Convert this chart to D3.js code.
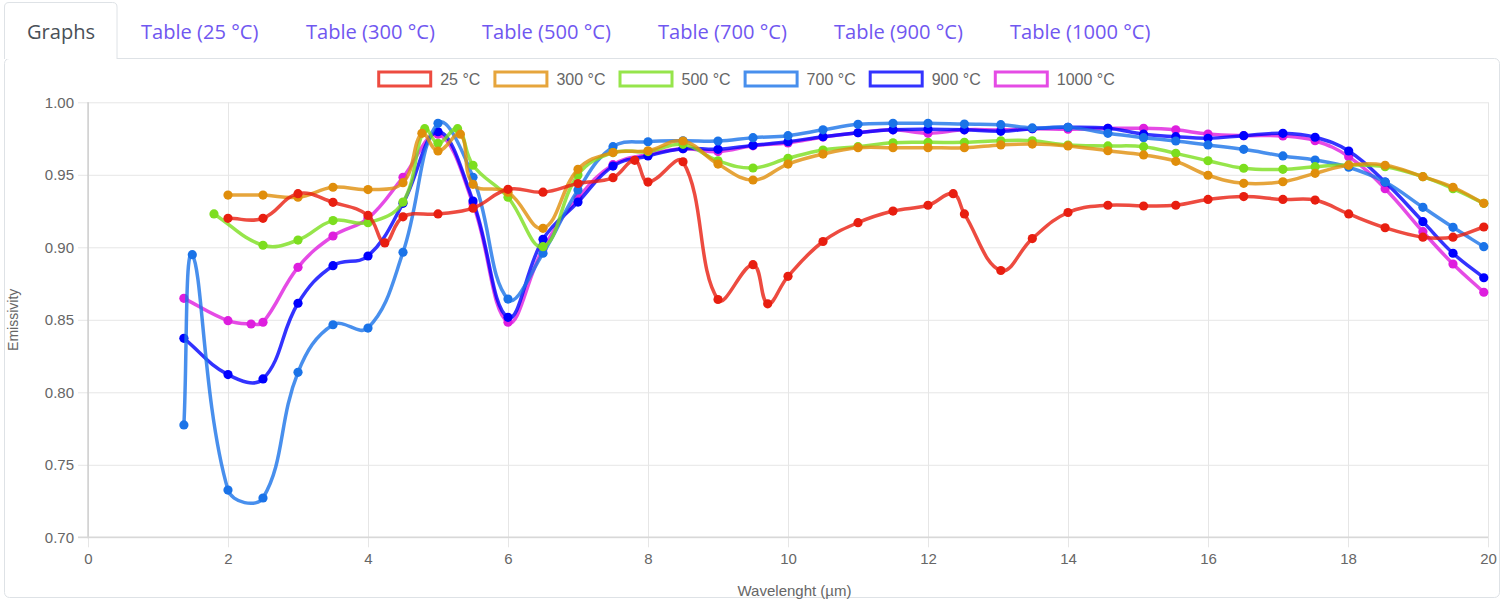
<!DOCTYPE html>
<html>
<head>
<meta charset="utf-8">
<script src="https://cdn.jsdelivr.net/npm/d3@7"></script>
<style>
  html, body { margin: 0; padding: 0; background: #fff; }
  svg { display: block; }
</style>
</head>
<body>
<svg id="chart" width="1505" height="600"></svg>
<script>
// ---------- DATA ----------
const tabLabels = ["Graphs", "Table (25 °C)", "Table (300 °C)", "Table (500 °C)", "Table (700 °C)", "Table (900 °C)", "Table (1000 °C)"];
const seriesNames = ["25 °C", "300 °C", "500 °C", "700 °C", "900 °C", "1000 °C"];
const xTicks = [0, 2, 4, 6, 8, 10, 12, 14, 16, 18, 20];
const yTicks = [0.70, 0.75, 0.80, 0.85, 0.90, 0.95, 1.00];

const x25 = [2, 2.5, 3, 3.5, 4, 4.24, 4.5, 5, 5.5, 6, 6.5, 7, 7.5, 7.81, 8, 8.5, 9, 9.5, 9.71, 10, 10.5, 11, 11.5, 12, 12.36, 12.52, 13.04, 13.49, 14, 14.57, 15.08, 15.54, 16, 16.51, 17.07, 17.53, 18.01, 18.53, 19.07, 19.5, 19.94];
const y25 = [0.920, 0.920, 0.937, 0.931, 0.922, 0.903, 0.921, 0.923, 0.927, 0.940, 0.938, 0.944, 0.948, 0.960, 0.945, 0.959, 0.864, 0.888, 0.861, 0.880, 0.904, 0.917, 0.925, 0.929, 0.937, 0.923, 0.884, 0.906, 0.924, 0.929, 0.9285, 0.929, 0.933, 0.935, 0.933, 0.9326, 0.923, 0.9135, 0.907, 0.907, 0.914];

const x300 = [2, 2.5, 3, 3.5, 4, 4.5, 4.77, 5, 5.32, 5.5, 6, 6.5, 7, 7.5, 8, 8.5, 9, 9.5, 10, 10.5, 11, 11.5, 12, 12.52, 13.04, 13.49, 14, 14.57, 15.08, 15.54, 16, 16.51, 17.07, 17.53, 18.01, 18.53, 19.07, 19.5, 19.94];
const y300 = [0.936, 0.936, 0.9345, 0.9414, 0.9398, 0.9446, 0.9786, 0.9664, 0.978, 0.9434, 0.938, 0.9131, 0.9538, 0.9653, 0.9666, 0.9733, 0.9574, 0.9464, 0.9574, 0.9643, 0.9687, 0.9687, 0.9687, 0.9687, 0.9706, 0.9712, 0.9699, 0.9666, 0.9637, 0.9593, 0.9497, 0.9441, 0.9452, 0.951, 0.9566, 0.9566, 0.9487, 0.9414, 0.9303];

const x500 = [1.8, 2.5, 3, 3.5, 4, 4.5, 4.81, 5, 5.28, 5.5, 6, 6.5, 7, 7.5, 8, 8.5, 9, 9.5, 10, 10.5, 11, 11.5, 12, 12.52, 13.04, 13.49, 14, 14.57, 15.08, 15.54, 16, 16.51, 17.07, 17.53, 18.01, 18.53, 19.07, 19.5, 19.94];
const y500 = [0.923, 0.9014, 0.905, 0.9184, 0.917, 0.9312, 0.9818, 0.9717, 0.9818, 0.9566, 0.9345, 0.9004, 0.9499, 0.9653, 0.966, 0.971, 0.9597, 0.9547, 0.9614, 0.9671, 0.9694, 0.9721, 0.9724, 0.9724, 0.9735, 0.9735, 0.9705, 0.9699, 0.9694, 0.9648, 0.9597, 0.9545, 0.9538, 0.9556, 0.9568, 0.9556, 0.9487, 0.9404, 0.9303];

const x700 = [1.37, 1.49, 2, 2.5, 3, 3.5, 4, 4.5, 5, 5.5, 6, 6.5, 7, 7.5, 8, 8.5, 9, 9.5, 10, 10.5, 11, 11.5, 12, 12.52, 13.04, 13.49, 14, 14.57, 15.08, 15.54, 16, 16.51, 17.07, 17.53, 18.01, 18.53, 19.07, 19.5, 19.94];
const y700 = [0.7775, 0.8949, 0.7326, 0.7271, 0.8138, 0.8466, 0.8443, 0.8966, 0.9855, 0.9483, 0.8643, 0.8959, 0.9395, 0.9694, 0.9728, 0.9735, 0.9733, 0.9756, 0.977, 0.981, 0.9848, 0.9855, 0.9855, 0.985, 0.9846, 0.9823, 0.9828, 0.9786, 0.9756, 0.9733, 0.9706, 0.9676, 0.963, 0.9602, 0.9552, 0.945, 0.9276, 0.9138, 0.9004];

const x900 = [1.37, 2, 2.5, 3, 3.5, 4, 4.5, 5, 5.5, 6, 6.5, 7, 7.5, 8, 8.5, 9, 9.5, 10, 10.5, 11, 11.5, 12, 12.52, 13.04, 13.49, 14, 14.57, 15.08, 15.54, 16, 16.51, 17.07, 17.53, 18.01, 18.53, 19.07, 19.5, 19.94];
const y900 = [0.8372, 0.8122, 0.8092, 0.8614, 0.8873, 0.894, 0.9303, 0.9797, 0.9319, 0.8517, 0.9055, 0.9312, 0.956, 0.963, 0.968, 0.9676, 0.9703, 0.9728, 0.9763, 0.979, 0.981, 0.9814, 0.981, 0.980, 0.9818, 0.9828, 0.9821, 0.978, 0.9763, 0.9752, 0.977, 0.9786, 0.9759, 0.9664, 0.945, 0.9177, 0.8959, 0.879];

const x1000 = [1.37, 2, 2.33, 2.5, 3, 3.5, 4, 4.5, 5, 5.5, 6, 6.5, 7, 7.5, 8, 8.5, 9, 9.5, 10, 10.5, 11, 11.5, 12, 12.52, 13.04, 13.49, 14, 14.57, 15.08, 15.54, 16, 16.51, 17.07, 17.53, 18.01, 18.53, 19.07, 19.5, 19.94];
const y1000 = [0.8648, 0.8494, 0.8471, 0.8483, 0.8862, 0.9078, 0.920, 0.9483, 0.978, 0.930, 0.8483, 0.899, 0.934, 0.957, 0.964, 0.968, 0.966, 0.970, 0.972, 0.976, 0.979, 0.981, 0.9786, 0.981, 0.981, 0.9818, 0.9814, 0.982, 0.9821, 0.981, 0.9781, 0.977, 0.9768, 0.9735, 0.9625, 0.9404, 0.9108, 0.8885, 0.869];

const seriesX = [x25, x300, x500, x700, x900, x1000];
const seriesY = [y25, y300, y500, y700, y900, y1000];
const pointColors = ["rgb(232,30,16)", "rgb(224,142,11)", "rgb(124,222,30)", "rgb(26,115,232)", "rgb(0,0,255)", "rgb(222,30,222)"];

// ---------- LAYOUT ----------
const svg = d3.select("#chart");
const plot = { left: 88, right: 1488, top: 102.3, bottom: 537.3 };
const x = d3.scaleLinear().domain([0, 20]).range([plot.left, plot.right]);
const y = d3.scaleLinear().domain([0.70, 1.00]).range([plot.bottom, plot.top]);

// ---------- TABS & CARD ----------
const tabFont = "'Open Sans', 'Noto Sans', sans-serif";
const tabG = svg.append("g");
const probe = tabG.append("text").attr("font-family", tabFont).attr("font-size", 20).text("Table (300 °C)");
const pw = probe.node().getComputedTextLength();
probe.remove();
const tabFontSize = 20 * 129 / pw;
const tabStartX = [27, 141, 306, 482, 658, 834, 1010];

svg.insert("rect", ":first-child").attr("x", 4.5).attr("y", 58.5).attr("width", 1495).attr("height", 539)
  .attr("rx", 5).attr("fill", "#fff").attr("stroke", "#dee2e6").attr("stroke-width", 1);
const tp = d3.path();
tp.moveTo(4.5, 59); tp.lineTo(4.5, 7); tp.quadraticCurveTo(4.5, 2.5, 9, 2.5);
tp.lineTo(112.5, 2.5); tp.quadraticCurveTo(117, 2.5, 117, 7); tp.lineTo(117, 59);
tabG.append("path").attr("d", tp.toString()).attr("fill", "#fff").attr("stroke", "#dee2e6");

tabLabels.forEach((t, i) => {
  tabG.append("text")
    .attr("x", tabStartX[i]).attr("y", 31)
    .attr("dominant-baseline", "central")
    .attr("font-family", tabFont).attr("font-size", tabFontSize)
    .attr("fill", i === 0 ? "#495057" : "#7057f0")
    .text(t);
});

// ---------- GRID & AXES ----------
const chartFont = "'Liberation Sans', Arial, sans-serif";
const gridColor = "#e6e6e6";

const yAxis = svg.append("g").attr("transform", `translate(${plot.left},0)`)
  .call(d3.axisLeft(y).tickValues(yTicks).tickFormat(d3.format(".2f")).tickSizeOuter(0).tickSizeInner(0).tickPadding(14));
yAxis.select(".domain").remove();
yAxis.selectAll(".tick line").attr("x1", -10).attr("x2", plot.right - plot.left)
  .attr("stroke", gridColor).attr("stroke-width", 1);
yAxis.selectAll(".tick text").attr("font-family", chartFont).attr("font-size", 15).attr("fill", "#666");

const xAxis = svg.append("g").attr("transform", `translate(0,${plot.bottom})`)
  .call(d3.axisBottom(x).tickValues(xTicks).tickFormat(d3.format("d")).tickSizeOuter(0).tickSizeInner(0).tickPadding(16));
xAxis.select(".domain").remove();
xAxis.selectAll(".tick line").attr("y1", 10).attr("y2", -(plot.bottom - plot.top))
  .attr("stroke", gridColor).attr("stroke-width", 1);
xAxis.selectAll(".tick text").attr("font-family", chartFont).attr("font-size", 15).attr("fill", "#666");

svg.append("line").attr("x1", plot.left).attr("x2", plot.left).attr("y1", plot.top).attr("y2", plot.bottom + 1)
  .attr("stroke", "#c6c6c6").attr("stroke-width", 1.2);
svg.append("line").attr("x1", plot.left - 10).attr("x2", plot.right).attr("y1", plot.bottom).attr("y2", plot.bottom)
  .attr("stroke", "#d8d8d8").attr("stroke-width", 1.6);

svg.append("text").attr("transform", `translate(13,${(plot.top + plot.bottom) / 2}) rotate(-90)`)
  .attr("text-anchor", "middle").attr("dominant-baseline", "central")
  .attr("font-family", chartFont).attr("font-size", 14).attr("fill", "#666").text("Emissivity");
svg.append("text").attr("x", 794.5).attr("y", 590)
  .attr("text-anchor", "middle").attr("dominant-baseline", "central")
  .attr("font-family", chartFont).attr("font-size", 15).attr("fill", "#666").text("Wavelenght (µm)");

// ---------- LINES (Chart.js style bezier, tension 0.4) ----------
function lineColor(c) { return d3.color(c).copy({ opacity: 0.8 }); }
function splinePath(pts, t) {
  const n = pts.length;
  const cps = pts.map((cur, i) => {
    const prev = i === 0 ? cur : pts[i - 1];
    const next = i === n - 1 ? cur : pts[i + 1];
    const d01 = Math.hypot(cur[0] - prev[0], cur[1] - prev[1]);
    const d12 = Math.hypot(next[0] - cur[0], next[1] - cur[1]);
    let s01 = d01 / (d01 + d12), s12 = d12 / (d01 + d12);
    if (!isFinite(s01)) s01 = 0; if (!isFinite(s12)) s12 = 0;
    const fa = t * s01, fb = t * s12;
    return {
      p: [cur[0] - fa * (next[0] - prev[0]), cur[1] - fa * (next[1] - prev[1])],
      n: [cur[0] + fb * (next[0] - prev[0]), cur[1] + fb * (next[1] - prev[1])]
    };
  });
  const p = d3.path();
  p.moveTo(pts[0][0], pts[0][1]);
  for (let i = 1; i < n; i++) {
    p.bezierCurveTo(cps[i - 1].n[0], cps[i - 1].n[1], cps[i].p[0], cps[i].p[1], pts[i][0], pts[i][1]);
  }
  return p.toString();
}

const lines = svg.append("g");
for (let s = seriesNames.length - 1; s >= 0; s--) {
  const pts = seriesX[s].map((xv, i) => [x(xv), y(seriesY[s][i])]);
  const g = lines.append("g");
  g.append("path").attr("d", splinePath(pts, 0.4)).attr("fill", "none")
    .attr("stroke", lineColor(pointColors[s])).attr("stroke-width", 3.5)
    .attr("stroke-linejoin", "round").attr("stroke-linecap", "round");
  g.selectAll("circle").data(seriesX[s].map((xv, i) => [xv, seriesY[s][i]])).join("circle")
    .attr("cx", d => x(d[0])).attr("cy", d => y(d[1])).attr("r", 4.6)
    .attr("fill", pointColors[s]);
}

// ---------- LEGEND ----------
const leg = svg.append("g");
const items = [];
seriesNames.forEach((nm, i) => {
  const gi = leg.append("g");
  gi.append("rect").attr("width", 52).attr("height", 14).attr("y", 72)
    .attr("fill", "#fff").attr("stroke", lineColor(pointColors[i])).attr("stroke-width", 3);
  const tx = gi.append("text").attr("y", 79).attr("dominant-baseline", "central")
    .attr("font-family", chartFont).attr("font-size", 16).attr("fill", "#666").text(nm);
  items.push({ gi, tx, w: tx.node().getComputedTextLength() });
});
const boxW = 55, gapText = 8, gapItem = 13;
const total = d3.sum(items, d => boxW + gapText + d.w) + gapItem * (items.length - 1);
let cx = 746 - total / 2;
items.forEach(d => {
  d.gi.select("rect").attr("x", cx + 1.5);
  d.tx.attr("x", cx + boxW + gapText);
  cx += boxW + gapText + d.w + gapItem;
});
</script>
</body>
</html>
